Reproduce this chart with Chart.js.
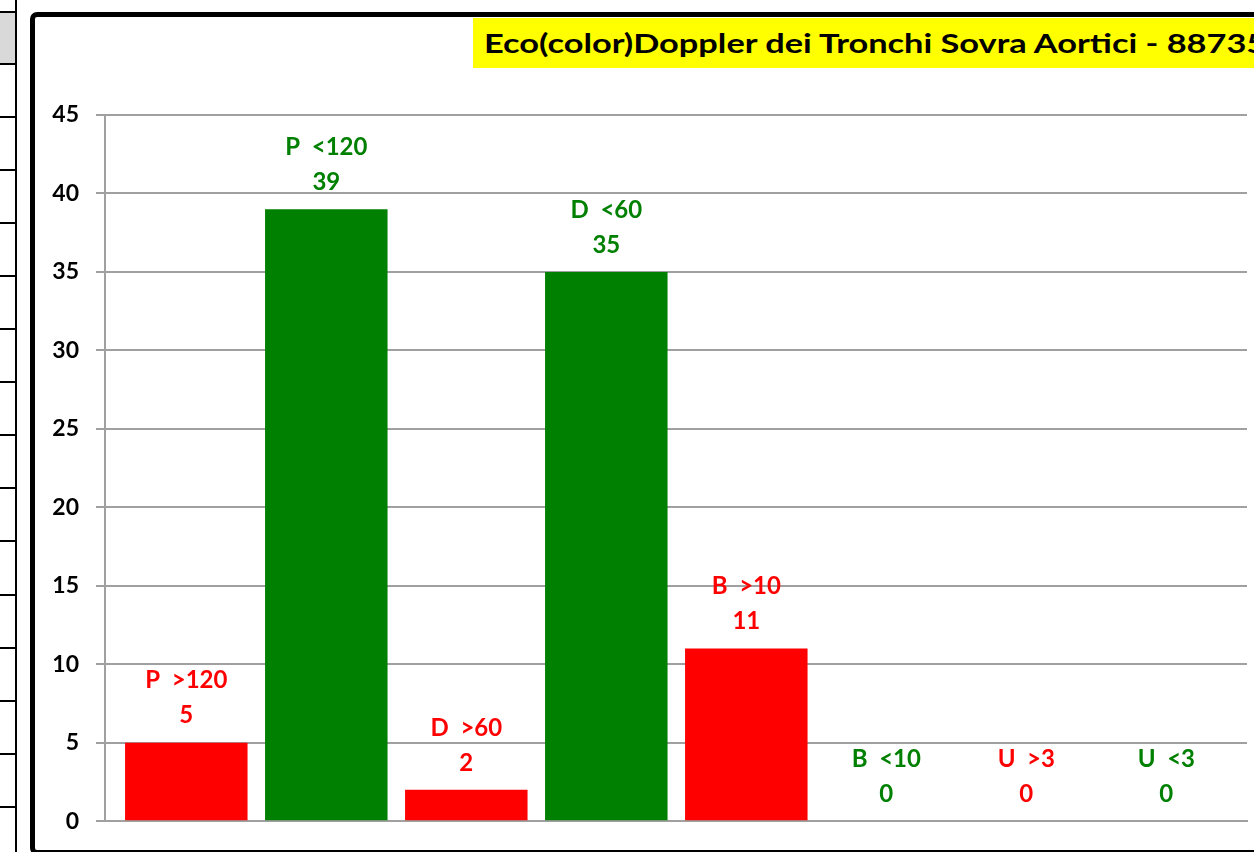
<!DOCTYPE html>
<html>
<head>
<meta charset="utf-8">
<script src="https://cdn.jsdelivr.net/npm/chart.js@4/dist/chart.umd.min.js"></script>
<style>
  html, body { margin: 0; padding: 0; background: #ffffff; }
  body { width: 1254px; height: 852px; overflow: hidden; position: relative; font-family: Lato, "Open Sans", sans-serif; }
  .sheet-col { position: absolute; left: 15px; top: 0; width: 2px; height: 852px; background: #000; }
  .sheet-row { position: absolute; left: 0; width: 17px; height: 2px; background: #000; }
  .sheet-cell { position: absolute; left: 0; top: 13px; width: 15px; height: 50px; background: #d9d9d9; }
  .frame { position: absolute; left: 30px; top: 12px; width: 1300px; height: 843px; box-sizing: border-box;
           border: 5px solid #000; border-radius: 7px; background: #fff; }
  #chart { position: absolute; left: 0; top: 0; }
  .title { position: absolute; left: 473px; top: 18px; width: 900px; height: 50px; overflow: hidden;
           background: #ffff00; }
  .title span { position: absolute; left: 11px; top: 0; display: block; color: #000; white-space: nowrap;
                font: bold 27px Lato, sans-serif; line-height: 50px; transform: scaleX(1.272); transform-origin: 0 50%; }
</style>
</head>
<body>
<div class="sheet-cell"></div>
<div class="sheet-col"></div>
<div id="rows"></div>
<div class="frame"></div>
<canvas id="chart" width="1254" height="852"></canvas>
<div class="title"><span>Eco(color)Doppler dei Tronchi Sovra Aortici - 88735</span></div>
<script>
// Categories, values and bar colours
const categories = ["P  >120", "P  <120", "D  >60", "D  <60", "B  >10", "B  <10", "U  >3", "U  <3"];
const counts = [5, 39, 2, 35, 11, 0, 0, 0];
const barColors = ["#ff0000", "#008000", "#ff0000", "#008000", "#ff0000", "#008000", "#ff0000", "#008000"];
const yTicks = [0, 5, 10, 15, 20, 25, 30, 35, 40, 45];

// Spreadsheet row lines to the left of the chart frame
(function () {
  const rows = document.getElementById("rows");
  const first = 11, start = 63, step = 53.05;
  const ys = [first];
  for (let k = 0; k < 15; k++) ys.push(Math.round(start + k * step));
  ys.forEach(function (y) {
    const d = document.createElement("div");
    d.className = "sheet-row";
    d.style.top = y + "px";
    rows.appendChild(d);
  });
})();

const GRID = "#a0a0a0";

// Two-line labels (category name, value) above each bar
const barLabels = {
  id: "barLabels",
  afterDatasetsDraw(chart) {
    const ctx = chart.ctx;
    const meta = chart.getDatasetMeta(0);
    ctx.save();
    ctx.font = "bold 24px Lato, sans-serif";
    ctx.textAlign = "center";
    ctx.textBaseline = "middle";
    meta.data.forEach(function (bar, i) {
      ctx.fillStyle = barColors[i];
      ctx.fillText(categories[i], bar.x, bar.y - 62);
      ctx.fillText(String(counts[i]), bar.x, bar.y - 27);
    });
    ctx.restore();
  }
};

new Chart(document.getElementById("chart"), {
  type: "bar",
  data: {
    labels: categories,
    datasets: [{
      data: counts.map(function (v, i) { return { x: i, y: v }; }),
      backgroundColor: barColors,
      borderWidth: 0,
      categoryPercentage: 1,
      barPercentage: 0.875
    }]
  },
  options: {
    responsive: false,
    animation: false,
    devicePixelRatio: 1,
    layout: { padding: { top: 115, left: 0, right: 7, bottom: 0 } },
    plugins: { legend: { display: false }, title: { display: false }, tooltip: { enabled: false } },
    scales: {
      x: {
        type: "linear",
        offset: false,
        min: -0.5807,
        max: 7.5764,
        ticks: { display: false, stepSize: 1, includeBounds: false },
        grid: { display: false },
        border: { display: true, color: GRID, width: 2 },
        afterFit(scale) { scale.height = 24; }
      },
      y: {
        min: 0,
        max: 45,
        afterBuildTicks(scale) { scale.ticks = yTicks.map(function (v) { return { value: v }; }); },
        ticks: { color: "#000", font: { family: "Lato", weight: "bold", size: 23 }, padding: 17 },
        grid: { color: GRID, lineWidth: 2, tickLength: 9, drawTicks: true },
        border: { display: true, color: GRID, width: 2 },
        afterFit(scale) { scale.width = 105; }
      }
    }
  },
  plugins: [barLabels]
});
</script>
</body>
</html>
